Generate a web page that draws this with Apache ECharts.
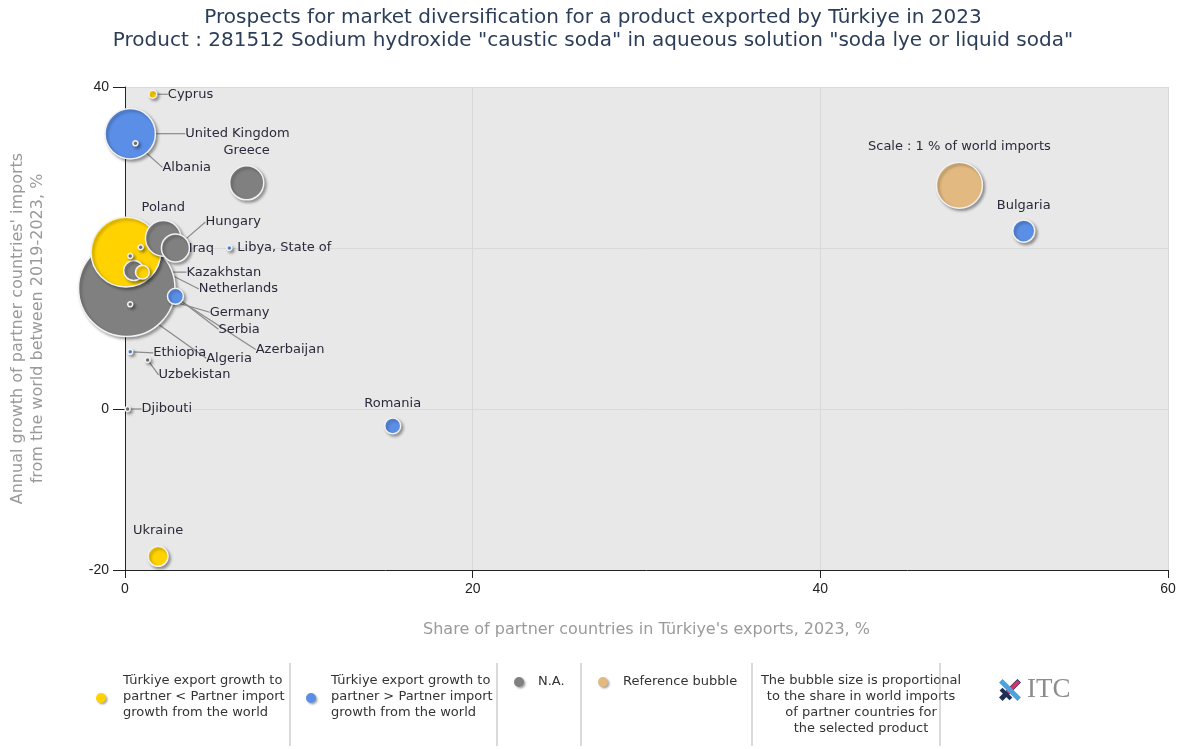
<!DOCTYPE html>
<html>
<head>
<meta charset="UTF-8">
<title>Market diversification - 281512</title>
<script src="https://cdn.jsdelivr.net/npm/echarts@6/dist/echarts.min.js"></script>
<style>
body { margin: 0; padding: 0; background: #fff; }
#main { width: 1186px; height: 749px; }
</style>
</head>
<body>
<div id="main"></div>
<script>
// partner countries
var countries = ['Germany', 'Netherlands', 'United Kingdom', 'Poland', 'Greece', 'Hungary', 'Ukraine', 'Azerbaijan',
    'Bulgaria', 'Serbia', 'Romania', 'Kazakhstan', 'Cyprus', 'Iraq', 'Libya, State of', 'Albania', 'Algeria',
    'Ethiopia', 'Uzbekistan', 'Djibouti', ''];
// share in Türkiye's exports 2023, %
var shareExports = [0.1, 0.05, 0.3, 2.2, 7.0, 2.9, 1.9, 0.5, 51.7, 2.9, 15.4, 1.0, 1.6, 0.9, 6.0, 0.6, 0.3, 0.3, 1.3, 0.15, 0.3];
// annual growth of partner imports 2019-2023, %
var importGrowth = [15.0, 19.5, 34.2, 21.2, 28.1, 20.0, -18.3, 17.2, 22.1, 14.0, -2.1, 17.0, 39.1, 20.1, 20.0, 33.0, 13.0, 7.1, 6.1, 0.0, 19.0];
// share in world imports, % (bubble size)
var worldShare = [4.4, 2.3, 1.2, 0.6, 0.55, 0.37, 0.19, 0.19, 0.23, 0.12, 0.12, 0.09, 0.03, 0.012, 0.012, 0.012, 0.012, 0.012, 0.012, 0.012, 0.012];
// y = Türkiye growth < partner growth, b = Türkiye growth > partner growth, n = N.A.
var groups = ['n', 'y', 'b', 'n', 'n', 'n', 'y', 'n', 'b', 'b', 'b', 'y', 'y', 'n', 'b', 'n', 'n', 'b', 'n', 'n', 'n'];

var refBubble = { name: 'Scale : 1 % of world imports', x: 48.0, y: 27.8, share: 1 };

var colors = { y: '#ffd200', b: '#5b8ee6', n: '#808080', r: '#e2b980' };

// label placement relative to bubble centre: [dx, dy, align, leader line]
var labelPos = {
    'Germany': [83, 24, 'left', true],
    'Netherlands': [73, 37, 'left', true],
    'United Kingdom': [55, 0, 'left', true],
    'Poland': [0, -31, 'center', false],
    'Greece': [0, -32, 'center', false],
    'Hungary': [30, -26, 'left', true],
    'Ukraine': [0, -26, 'center', false],
    'Azerbaijan': [122, 79, 'left', true],
    'Bulgaria': [0, -25, 'center', false],
    'Serbia': [43, 33, 'left', true],
    'Romania': [0, -22, 'center', false],
    'Kazakhstan': [44, 0, 'left', true],
    'Cyprus': [15, 0, 'left', true],
    'Iraq': [48, 1, 'left', true],
    'Libya, State of': [8, 0, 'left', false],
    'Albania': [27, 24, 'left', true],
    'Algeria': [76, 54, 'left', true],
    'Ethiopia': [23, 1, 'left', true],
    'Uzbekistan': [11, 15, 'left', true],
    'Djibouti': [14, 0, 'left', true],
    'Scale : 1 % of world imports': [0, -39, 'center', false]
};

function bubbleSize(v) {
    return Math.max(5, 46 * Math.sqrt(v));
}

var points = [];
for (var i = 0; i < countries.length; i++) {
    var lp = labelPos[countries[i]];
    points.push({
        name: countries[i],
        value: [shareExports[i], importGrowth[i], worldShare[i]],
        itemStyle: { color: colors[groups[i]] },
        labelLine: { show: lp ? lp[3] : false }
    });
}
points.push({
    name: refBubble.name,
    value: [refBubble.x, refBubble.y, refBubble.share],
    itemStyle: { color: colors.r },
    labelLine: { show: false }
});
// big bubbles first, small ones drawn on top
points.sort(function (a, b) { return b.value[2] - a.value[2]; });

var chart = echarts.init(document.getElementById('main'));

var legendFont = '13px "DejaVu Sans", sans-serif';
function dot(x, y, c) {
    return { type: 'circle', shape: { cx: x, cy: y, r: 5 }, style: { fill: c, shadowBlur: 2, shadowColor: 'rgba(0,0,0,0.35)', shadowOffsetX: 1.5, shadowOffsetY: 1.5 } };
}
function sep(x) {
    return { type: 'line', shape: { x1: x, y1: 663, x2: x, y2: 746 }, style: { stroke: '#b5b5b5', lineWidth: 1 } };
}
function txt(x, y, s, align) {
    return { type: 'text', x: x, y: y, style: { text: s, font: legendFont, fill: '#333', lineHeight: 16, align: align || 'left', verticalAlign: 'top' } };
}

var option = {
    backgroundColor: '#fff',
    title: {
        text: 'Prospects for market diversification for a product exported by Türkiye in 2023\nProduct : 281512 Sodium hydroxide "caustic soda" in aqueous solution "soda lye or liquid soda"',
        left: 'center',
        top: 1,
        textStyle: { fontFamily: 'DejaVu Sans', fontSize: 20, fontWeight: 'normal', color: '#2b3d58', lineHeight: 23 }
    },
    grid: {
        left: 125, right: 18, top: 87, bottom: 179,
        show: true, backgroundColor: '#e8e8e8', borderWidth: 0
    },
    xAxis: {
        type: 'value', min: 0, max: 60, interval: 20,
        name: "Share of partner countries in Türkiye's exports, 2023, %",
        nameLocation: 'middle', nameGap: 52,
        nameTextStyle: { fontFamily: 'DejaVu Sans', fontSize: 16, color: '#9a9a9a' },
        axisLine: { show: true, onZero: false, lineStyle: { color: '#222', width: 1 } },
        axisTick: { show: true, length: 8, lineStyle: { color: '#222' } },
        axisLabel: { fontFamily: 'Liberation Sans', fontSize: 14, color: '#222', margin: 12 },
        splitLine: { show: true, lineStyle: { color: '#d9d9d9' } }
    },
    yAxis: {
        type: 'value', min: -20, max: 40, interval: 20,
        name: "Annual growth of partner countries' imports\nfrom the world between 2019-2023, %",
        nameLocation: 'middle', nameGap: 77, nameRotate: 90,
        nameTextStyle: { fontFamily: 'DejaVu Sans', fontSize: 16, color: '#9a9a9a', lineHeight: 20 },
        axisLine: { show: true, onZero: false, lineStyle: { color: '#222', width: 1 } },
        axisTick: { show: true, length: 12, lineStyle: { color: '#222' } },
        axisLabel: { fontFamily: 'Liberation Sans', fontSize: 14, color: '#222', margin: 16 },
        splitLine: { show: true, lineStyle: { color: '#d9d9d9' } }
    },
    series: [{
        type: 'scatter',
        data: points,
        symbolSize: function (val) { return bubbleSize(val[2]); },
        itemStyle: {
            borderColor: '#f2f2f2', borderWidth: 1.5, opacity: 1,
            shadowBlur: 3, shadowColor: 'rgba(0,0,0,0.35)', shadowOffsetX: 2, shadowOffsetY: 2
        },
        emphasis: { disabled: true },
        label: {
            show: true,
            formatter: '{b}',
            position: 'inside',
            fontFamily: 'DejaVu Sans', fontSize: 13, color: '#2a2a3a'
        },
        labelLine: { show: true, lineStyle: { color: '#8a8a8a', width: 1.2 } },
        labelLayout: function (p) {
            var lp = labelPos[p.text];
            if (!lp) return { hideOverlap: false };
            var cx = p.rect.x + p.rect.width / 2;
            var cy = p.rect.y + p.rect.height / 2;
            return { x: cx + lp[0], y: cy + lp[1], align: lp[2], verticalAlign: 'middle' };
        }
    }],
    graphic: [
        dot(101, 698, colors.y),
        txt(123, 673, 'Türkiye export growth to\npartner < Partner import\ngrowth from the world'),
        sep(290),
        dot(311, 698, colors.b),
        txt(331, 673, 'Türkiye export growth to\npartner > Partner import\ngrowth from the world'),
        sep(497),
        dot(519, 682, colors.n),
        txt(538, 674, 'N.A.'),
        sep(581),
        dot(603, 682, colors.r),
        txt(623, 674, 'Reference bubble'),
        sep(752),
        txt(861, 673, 'The bubble size is proportional\nto the share in world imports\nof partner countries for\nthe selected product', 'center'),
        sep(940),
        // ITC logo
        { type: 'rect', x: 1010, y: 690, rotation: Math.PI / 4, shape: { x: -13, y: -2.5, width: 26, height: 5 }, style: { fill: '#1d2f55' } },
        { type: 'rect', x: 1013, y: 687, rotation: Math.PI / 4, shape: { x: -8, y: -2, width: 16, height: 4 }, style: { fill: '#d6336c' } },
        { type: 'rect', x: 1010, y: 690, rotation: -Math.PI / 4, shape: { x: -13, y: -2.5, width: 26, height: 5 }, style: { fill: '#4aa3df' } },
        { type: 'rect', x: 1006, y: 694, rotation: -Math.PI / 4, shape: { x: -7, y: -2, width: 14, height: 4 }, style: { fill: '#1d2f55' } },
        { type: 'text', x: 1027, y: 690, style: { text: 'ITC', font: '27px "Liberation Serif", serif', fill: '#8c8c8c', verticalAlign: 'middle' } }
    ]
};
chart.setOption(option);
</script>
</body>
</html>
